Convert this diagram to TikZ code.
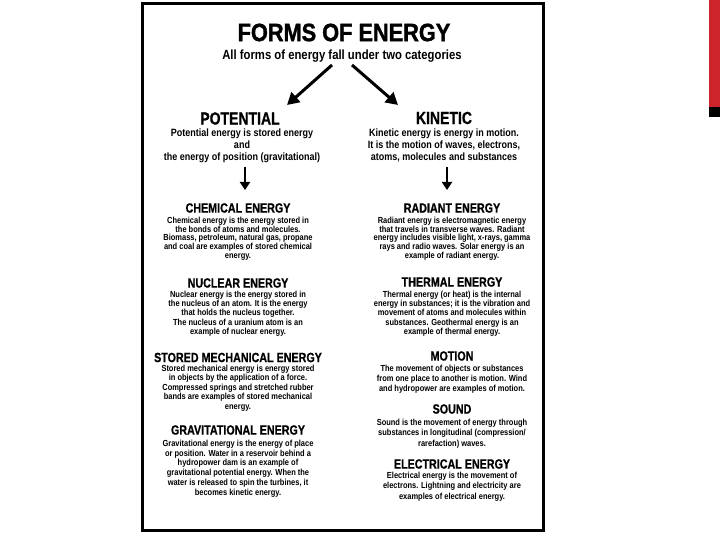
\documentclass[tikz,border=0pt]{standalone}
\usepackage{fontspec}
\setmainfont{Liberation Sans}
\newfontfamily\fb{Liberation Sans}[FakeStretch=0.85]
\newfontfamily\fh{Liberation Sans}[FakeStretch=0.8,FakeBold=0.8]
\newfontfamily\ft{Liberation Sans}[FakeStretch=0.87,FakeBold=1.4]
\usetikzlibrary{arrows.meta}
\definecolor{accent}{RGB}{204,36,42}
\begin{document}
\begin{tikzpicture}[x=1pt,y=-1pt,
  hd/.style={font=\fh\bfseries\fontsize{13.4}{14}\selectfont, inner sep=0},
  big/.style={font=\fh\bfseries\fontsize{17.5}{20}\selectfont, inner sep=0},
  intro/.style={font=\fb\bfseries\fontsize{10.6}{12}\selectfont, align=center, inner sep=0, anchor=north},
  body/.style={font=\fb\bfseries\fontsize{8.8}{#1}\selectfont, align=center, inner sep=0, anchor=north},
  diagarrow/.style={line width=3pt, -{Triangle[length=12pt,width=13pt]}},
  downarrow/.style={line width=1.8pt, -{Triangle[length=8pt,width=10pt]}}]
\useasboundingbox (0,0) rectangle (720,540);
\fill[white] (0,0) rectangle (720,540);
% slide accent
\fill[accent] (709,0) rectangle (720,107);
\fill[black] (709,107) rectangle (720,117);
% frame
\draw[line width=3pt] (142.5,3.5) rectangle (543,530.5);
% title
\node[font=\ft\bfseries\fontsize{25}{30}\selectfont, inner sep=0] (title) at (344,32.5) {FORMS OF ENERGY};
\node[font=\fb\bfseries\fontsize{13.3}{15}\selectfont, inner sep=0, anchor=base] (sub) at (342,59.5) {All forms of energy fall under two categories};
% category headings
\node[big] (pot) at (240,118.5) {POTENTIAL};
\node[big] (kin) at (444,118) {KINETIC};
\node[intro] (pottext) at (242,129) {Potential energy is stored energy\\and\\the energy of position (gravitational)};
\node[intro] (kintext) at (444,129) {Kinetic energy is energy in motion.\\It is the motion of waves, electrons,\\atoms, molecules and substances};
% arrows from subtitle
\coordinate (la0) at (332,65);
\coordinate (la1) at (287,105);
\coordinate (ra0) at (352,65);
\coordinate (ra1) at (398,105);
\draw[diagarrow] (la0) -- (la1);
\draw[diagarrow] (ra0) -- (ra1);
\coordinate (ld0) at (245,167);
\coordinate (ld1) at (245,190);
\coordinate (rd0) at (447,167);
\coordinate (rd1) at (447,190);
\draw[downarrow] (ld0) -- (ld1);
\draw[downarrow] (rd0) -- (rd1);
% left column
\node[hd] (chem) at (238,208) {CHEMICAL ENERGY};
\node[body=8.75] (chemtext) at (238,216.7) {Chemical energy is the energy stored in\\the bonds of atoms and molecules.\\Biomass, petroleum, natural gas, propane\\and coal are examples of stored chemical\\energy.};
\node[hd] (nuc) at (238,283) {NUCLEAR ENERGY};
\node[body=9.25] (nuctext) at (238,290.7) {Nuclear energy is the energy stored in\\the nucleus of an atom. It is the energy\\that holds the nucleus together.\\The nucleus of a uranium atom is an\\example of nuclear energy.};
\node[hd] (mech) at (238,357.5) {STORED MECHANICAL ENERGY};
\node[body=9.5] (mechtext) at (238,364.7) {Stored mechanical energy is energy stored\\in objects by the application of a force.\\Compressed springs and stretched rubber\\bands are examples of stored mechanical\\energy.};
\node[hd] (grav) at (238,430) {GRAVITATIONAL ENERGY};
\node[body=9.8] (gravtext) at (238,439.7) {Gravitational energy is the energy of place\\or position. Water in a reservoir behind a\\hydropower dam is an example of\\gravitational potential energy. When the\\water is released to spin the turbines, it\\becomes kinetic energy.};
% right column
\node[hd] (rad) at (452,208) {RADIANT ENERGY};
\node[body=8.75] (radtext) at (452,216.7) {Radiant energy is electromagnetic energy\\that travels in transverse waves. Radiant\\energy includes visible light, x-rays, gamma\\rays and radio waves. Solar energy is an\\example of radiant energy.};
\node[hd] (therm) at (452,282) {THERMAL ENERGY};
\node[body=9.25] (thermtext) at (452,290.7) {Thermal energy (or heat) is the internal\\energy in substances; it is the vibration and\\movement of atoms and molecules within\\substances. Geothermal energy is an\\example of thermal energy.};
\node[hd] (mot) at (452,356) {MOTION};
\node[body=10] (mottext) at (452,364.7) {The movement of objects or substances\\from one place to another is motion. Wind\\and hydropower are examples of motion.};
\node[hd] (snd) at (452,409) {SOUND};
\node[body=10.5] (sndtext) at (452,418.7) {Sound is the movement of energy through\\substances in longitudinal (compression/\\rarefaction) waves.};
\node[hd] (elec) at (452,464) {ELECTRICAL ENERGY};
\node[body=10.5] (electext) at (452,471.7) {Electrical energy is the movement of\\electrons. Lightning and electricity are\\examples of electrical energy.};
\end{tikzpicture}
\end{document}
